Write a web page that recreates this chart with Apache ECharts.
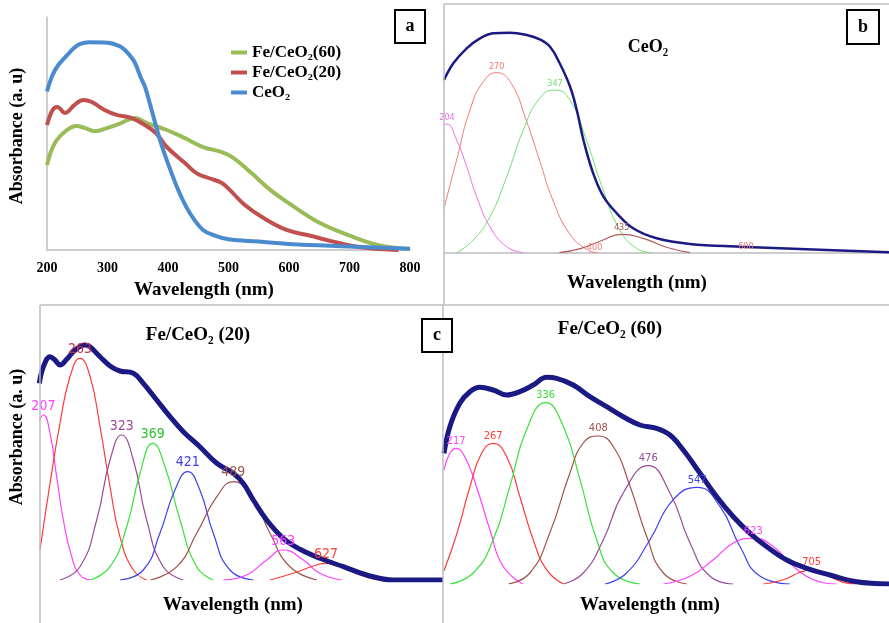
<!DOCTYPE html>
<html>
<head>
<meta charset="utf-8">
<script src="https://cdn.jsdelivr.net/npm/echarts@6/dist/echarts.min.js"></script>
<style>
  html, body { margin: 0; padding: 0; background: #fff; }
  #main { width: 889px; height: 623px; }
</style>
</head>
<body>
<div id="main"></div>
<script>
// ---- panel a : measured spectra (wavelength nm, absorbance a.u.)
const aCeO2 = [[200,68],[209,75],[219,79.5],[233,83.5],[245,86.8],[255,88.5],[270,89.2],[300,89],[320,87.5],[330,85.5],[340,82.5],[346,80],[355,74],[362,70],[373,60],[387,47],[398,38.6],[417,25.7],[436,15.9],[458,8.6],[480,6],[500,4.6],[550,3.6],[600,2.6],[700,1.5],[800,0.5]];
const aFe20 = [[200,53.6],[209,60],[217,61.4],[230,58.8],[245,62.2],[260,64.4],[274,63.5],[296,60],[315,58],[340,56.6],[362,53.6],[380,50.2],[398,44.2],[428,37.3],[447,33],[467,30.9],[489,28.8],[502,25.8],[527,19.3],[558,13.7],[596,8.6],[637,6],[673,3.6],[712,1.4],[750,0.4],[781,0]];
const aFe60 = [[200,36.5],[213,45.9],[233,51.5],[249,53.2],[263,52.3],[279,51],[299,52.3],[318,54],[337,56.2],[346,56.6],[365,54.5],[398,51.5],[428,48],[458,44.2],[489,42],[508,39.5],[538,33],[569,25.8],[599,20.2],[648,12],[698,6.4],[748,2.1],[800,0.4]];
const aTicks = [200, 300, 400, 500, 600, 700, 800];

// ---- panel b : CeO2 deconvolution
const bTotal = [[200,173],[212.6,189.7],[230.6,204.7],[248.5,214.7],[266.5,219.7],[289,220.3],[311.5,218],[329,213.7],[343,206.3],[356,189.7],[370,166.3],[379,143],[388,113],[401,80],[415,56.3],[433,39.7],[455,24.7],[486.6,14.7],[531.5,9],[599,6.3],[689,3.7],[800,0.7]];
const b204 = [[200,128],[204,129],[217,113],[230.6,86.3],[244,56.3],[262,26.3],[284.5,6.3],[307,0.3]];
const b270 = [[200,44.7],[217,93],[235,143],[253,171.3],[271,180.3],[290.5,169.7],[310.7,133],[328.7,93],[346.7,53],[369,19.7],[392,3.7],[407.7,0.3]];
const b347 = [[217,0],[239.4,13],[262,36.3],[284.5,76.3],[307,123],[329,154.7],[349.6,163],[369.8,153],[392,113],[414.6,63],[437,23],[459.5,4.7],[479.7,0.3]];
const b435 = [[355.5,0.3],[385,4.7],[412,12.3],[439.5,18.7],[468.5,14.7],[500,5.7],[531.5,0.3]];
const bPeakLabels = ['204', '270', '347', '435'];
const bNotes = [['400', 403, 5], ['600', 607, 6.5]];

// ---- panel c left : Fe/CeO2 (20)
const c20Total = [[204,196.7],[210,213.3],[219.8,223.3],[227,220],[234.5,215],[244.4,220.7],[256.7,230],[271.4,235],[278.8,233.3],[293.6,223.3],[308.4,214],[323,209],[342.8,206.7],[357.5,196.7],[377.3,180],[397,163.3],[416.6,148.3],[441,133.3],[466,116.7],[490.4,106.7],[505,96.7],[520,80],[539.7,60],[564.2,41.7],[589,30.7],[618.4,21.7],[653,13.3],[687.4,5],[726.6,0],[800,0]];
const c20p1 = [[204,160],[210,165],[219.8,146.7],[229.6,103.3],[239.5,60],[251.8,23.3],[264,5],[279,0]];
const c20p2 = [[205,30],[219.8,96.7],[234.5,156.7],[249.3,203.3],[264,221.7],[279,203.3],[293.6,153.3],[308.4,93.3],[323,43.3],[342.8,10],[362.5,0]];
const c20p3 = [[234.5,0],[264,13.3],[288.7,60],[308.4,120],[325.6,145],[342.8,120],[362.5,60],[387,13.3],[416.6,0]];
const c20p4 = [[279,0],[308.4,13.3],[333,53.3],[352.7,106.7],[371.4,136.7],[389.6,113.3],[411.7,60],[436.3,13.3],[461,0]];
const c20p5 = [[323,0],[357.5,10],[382,46.7],[404.2,90],[423,108.3],[441,90],[460.8,46.7],[485.4,10],[520,0]];
const c20p6 = [[367.8,0],[407,13.3],[436.3,46.7],[466,83.3],[490.4,98.3],[520,80],[544.6,46.7],[574,13.3],[614,0]];
const c20p7 = [[475.6,0],[510,5],[539.7,20],[564.2,30],[593.8,20],[618.4,6.7],[650.5,0]];
const c20p8 = [[544.6,0],[579,6.7],[608.5,14],[627.3,16.7],[653,13.3],[677.7,5],[702,0]];
const c20Labels = ['207', '263', '323', '369', '421', '489', '563', '627'];

// ---- panel c right : Fe/CeO2 (60)
const c60Total = [[200,130.7],[208,157.3],[221.7,180.7],[235.5,192.3],[249,196.7],[267.4,194],[286,189],[304,192.3],[322.3,199],[340.6,206.7],[354.4,205.7],[377.2,199],[400,187.3],[423,177.3],[445.7,167.3],[468.6,159],[491.5,155.7],[509.8,149],[528,134],[551,110.7],[573.9,87.3],[596.6,67.3],[619.5,50.7],[642.4,37.3],[669.8,24],[697.3,15.7],[728.8,9],[765.4,2.3],[810,0]];
const c60p1 = [[200,114],[208,130.7],[216.5,135.7],[228.5,127.3],[244.5,97.3],[263,54],[281,17.7],[308,0]];
const c60p2 = [[200,13.3],[217.5,50],[235.5,97],[251.5,130.7],[267.4,140.7],[286,127.3],[304,87.3],[322.3,44.3],[340.6,14.3],[363.5,0]];
const c60p3 = [[208,0],[240,11],[267.4,44.3],[290.3,97.7],[313.1,154.3],[339.3,181.3],[363.5,157.7],[386.4,104.3],[409.3,44.3],[432.2,11],[468.6,0]];
const c60p4 = [[288.3,0],[317.7,11],[345,51],[372.6,111],[390.9,141],[411.5,148],[432.2,137.3],[455,97.7],[477.8,47.7],[500.7,11],[533,0]];
const c60p5 = [[363.5,0],[390.9,11],[418.4,44.3],[445.7,91],[480,118.3],[509.8,91],[537.2,41],[564.7,7.7],[596.6,0]];
const c60p6 = [[420.7,0],[450.3,11],[482.3,44.3],[514.3,84.3],[547.1,96.7],[578.5,77.3],[605.9,37.3],[633.4,7.7],[674.4,0]];
const c60p7 = [[500.7,0],[537.2,7.7],[569.2,24.3],[596.6,41],[624,45.7],[651.6,37.3],[679,17.7],[706.4,4.3],[738.3,0]];
const c60p8 = [[638,0],[665.3,4.3],[688.2,11.7],[704,14],[724.3,9],[747.1,1.7],[765,0]];
const c60Labels = ['217', '267', '336', '408', '476', '547', '623', '705'];

const serif = "'Liberation Serif', 'DejaVu Serif', serif";
const narrow = "'Liberation Sans Narrow', 'Arial Narrow', 'DejaVu Sans Condensed', sans-serif";
const navy = '#1b1a84';
const gray = '#bdbdbd';

function peakOf(data) {
  let best = data[0];
  data.forEach(function (p) { if (p[1] > best[1]) best = p; });
  return best;
}

function comp(data, text, color, idx, fontSize, width, labelColor) {
  const pk = peakOf(data);
  return {
    type: 'line', xAxisIndex: idx, yAxisIndex: idx, data: data,
    smooth: 0.5, showSymbol: false, silent: true,
    lineStyle: { color: color, width: width },
    markPoint: {
      symbol: 'circle', symbolSize: 0, silent: true,
      label: { show: true, position: 'top', distance: 2, formatter: text,
        color: labelColor || color, fontFamily: narrow, fontSize: fontSize },
      data: [{ coord: pk }]
    }
  };
}

const chart = echarts.init(document.getElementById('main'));

const grids = [
  { left: 47, top: 17, width: 363, height: 233 },
  { left: 444, top: 20, width: 445, height: 233 },
  { left: 40, top: 340, width: 403, height: 240 },
  { left: 444, top: 344, width: 445, height: 240 }
];

const xAxes = [
  { gridIndex: 0, type: 'value', min: 200, max: 800, interval: 100,
    axisLine: { lineStyle: { color: gray, width: 1.5 } }, axisTick: { show: false },
    splitLine: { show: false },
    axisLabel: { color: '#000', fontFamily: serif, fontWeight: 'bold', fontSize: 14, margin: 11,
      formatter: function (v) { return aTicks.indexOf(v) >= 0 ? String(v) : ''; } } },
  { gridIndex: 1, type: 'value', min: 200, max: 800,
    axisLine: { lineStyle: { color: gray, width: 1.5 } }, axisTick: { show: false },
    axisLabel: { show: false }, splitLine: { show: false } },
  { gridIndex: 2, type: 'value', min: 205, max: 800, show: false },
  { gridIndex: 3, type: 'value', min: 200, max: 810, show: false }
];

const yAxes = [
  { gridIndex: 0, type: 'value', min: 0, max: 100,
    axisLine: { show: true, lineStyle: { color: gray, width: 1.5 } },
    axisTick: { show: false }, axisLabel: { show: false }, splitLine: { show: false } },
  { gridIndex: 1, type: 'value', min: 0, max: 233, show: false },
  { gridIndex: 2, type: 'value', min: 0, max: 240, show: false },
  { gridIndex: 3, type: 'value', min: 0, max: 240, show: false }
];

const series = [
  { name: 'Fe/CeO₂(60)', type: 'line', data: aFe60, smooth: 0.4, showSymbol: false,
    lineStyle: { color: '#9bbb59', width: 4 }, itemStyle: { color: '#9bbb59' } },
  { name: 'Fe/CeO₂(20)', type: 'line', data: aFe20, smooth: 0.4, showSymbol: false,
    lineStyle: { color: '#c0504d', width: 4 }, itemStyle: { color: '#c0504d' } },
  { name: 'CeO₂', type: 'line', data: aCeO2, smooth: 0.4, showSymbol: false,
    lineStyle: { color: '#4a8bd0', width: 4 }, itemStyle: { color: '#4a8bd0' } },

  comp(b204, bPeakLabels[0], '#ea70ea', 1, 9, 1),
  comp(b270, bPeakLabels[1], '#f07878', 1, 9, 1),
  comp(b347, bPeakLabels[2], '#72e072', 1, 9, 1),
  comp(b435, bPeakLabels[3], '#b05a5a', 1, 9, 1.2),
  { type: 'line', xAxisIndex: 1, yAxisIndex: 1, data: bTotal, smooth: 0.4, showSymbol: false,
    lineStyle: { color: navy, width: 2.5 },
    markPoint: { symbol: 'circle', symbolSize: 0,
      label: { show: true, position: 'inside', color: '#f07878', fontFamily: narrow, fontSize: 9,
        formatter: function (p) { return p.name; } },
      data: bNotes.map(function (n) { return { name: n[0], coord: [n[1], n[2]] }; }) } },

  comp(c20p1, c20Labels[0], '#ff40ff', 2, 14, 1.2),
  comp(c20p2, c20Labels[1], '#ff3a3a', 2, 14, 1.2, '#c8304a'),
  comp(c20p3, c20Labels[2], '#9a4a9a', 2, 14, 1.2),
  comp(c20p4, c20Labels[3], '#3ae03a', 2, 14, 1.2, '#2cc02c'),
  comp(c20p5, c20Labels[4], '#4040ee', 2, 14, 1.2),
  comp(c20p6, c20Labels[5], '#a0524c', 2, 14, 1.2),
  comp(c20p7, c20Labels[6], '#ff40ff', 2, 14, 1.2),
  comp(c20p8, c20Labels[7], '#ff3a3a', 2, 14, 1.2),
  { type: 'line', xAxisIndex: 2, yAxisIndex: 2, data: c20Total, smooth: 0.4, showSymbol: false,
    lineStyle: { color: navy, width: 5 } },

  comp(c60p1, c60Labels[0], '#ff40ff', 3, 11, 1.2),
  comp(c60p2, c60Labels[1], '#ff3a3a', 3, 11, 1.2),
  comp(c60p3, c60Labels[2], '#3ae03a', 3, 11, 1.2),
  comp(c60p4, c60Labels[3], '#a0524c', 3, 11, 1.2),
  comp(c60p5, c60Labels[4], '#9a4a9a', 3, 11, 1.2),
  comp(c60p6, c60Labels[5], '#4040ee', 3, 11, 1.2),
  comp(c60p7, c60Labels[6], '#ff40ff', 3, 11, 1.2),
  comp(c60p8, c60Labels[7], '#ff3a3a', 3, 11, 1.2),
  { type: 'line', xAxisIndex: 3, yAxisIndex: 3, data: c60Total, smooth: 0.4, showSymbol: false,
    lineStyle: { color: navy, width: 5 } }
];

function txt(text, x, y, size, rot) {
  return { type: 'text', x: x, y: y, rotation: rot || 0, z: 50,
    style: { text: text, fill: '#000', font: 'bold ' + size + 'px ' + serif,
      align: 'center', verticalAlign: 'middle' } };
}
function line(x1, y1, x2, y2) {
  return { type: 'line', z: 40, shape: { x1: x1, y1: y1, x2: x2, y2: y2 },
    style: { stroke: gray, lineWidth: 1.5 } };
}
function box(label, x, y, w, h) {
  return [
    { type: 'rect', z: 60, shape: { x: x, y: y, width: w, height: h },
      style: { fill: '#fff', stroke: '#000', lineWidth: 2 } },
    { type: 'text', z: 61, x: x + w / 2, y: y + h / 2,
      style: { text: label, fill: '#000', font: 'bold 18px ' + serif, align: 'center', verticalAlign: 'middle' } }
  ];
}

const graphics = [
  line(444, 4, 889, 4), line(444, 4, 444, 305),
  line(40, 305, 889, 305), line(40, 305, 40, 623), line(443, 305, 443, 623),
  txt('Absorbance (a. u)', 17, 136, 18, Math.PI / 2),
  txt('Absorbance (a. u)', 17, 437, 18, Math.PI / 2),
  txt('Wavelength (nm)', 204, 290, 19),
  txt('Wavelength (nm)', 637, 283, 19),
  txt('Wavelength (nm)', 233, 605, 19),
  txt('Wavelength (nm)', 650, 605, 19),
  txt('CeO₂', 648, 47, 18),
  txt('Fe/CeO₂ (20)', 198, 335, 19),
  txt('Fe/CeO₂ (60)', 610, 329, 19)
].concat(box('a', 395, 10, 30, 33), box('b', 847, 10, 32, 34), box('c', 422, 319, 30, 33));

chart.setOption({
  animation: false,
  backgroundColor: '#fff',
  grid: grids,
  xAxis: xAxes,
  yAxis: yAxes,
  legend: {
    data: ['Fe/CeO₂(60)', 'Fe/CeO₂(20)', 'CeO₂'],
    orient: 'vertical', left: 226, top: 39,
    icon: 'rect', itemWidth: 16, itemHeight: 4, itemGap: 3,
    textStyle: { color: '#000', fontFamily: serif, fontWeight: 'bold', fontSize: 17, lineHeight: 17 }
  },
  graphic: graphics,
  series: series
});
</script>
</body>
</html>
